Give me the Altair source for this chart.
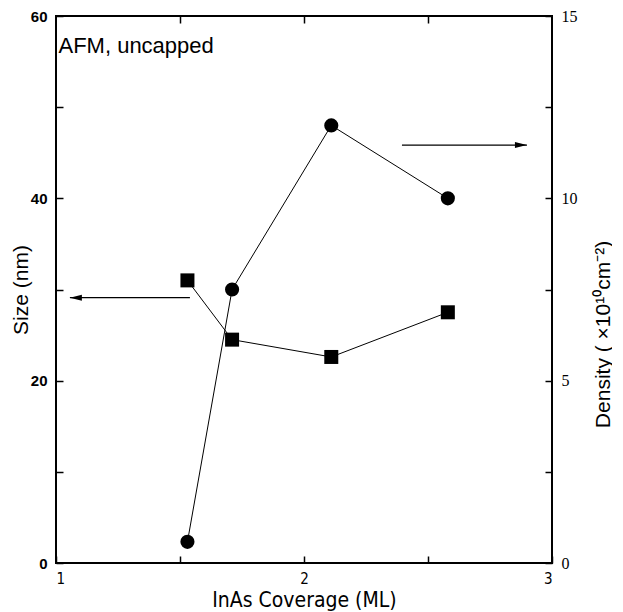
import altair as alt
import pandas as pd

# ---- data ----
coverage = [1.53, 1.71, 2.11, 2.58]          # InAs coverage (ML)
size_nm = [31.0, 24.5, 22.6, 27.5]           # Size (nm), squares, left axis
density = [0.58, 7.5, 12.0, 10.0]            # Density (1e10 cm^-2), circles, right axis

# arrows (tail -> head), in each series' own units
size_arrow_x = [1.54, 1.056]
size_arrow_y = [29.1, 29.1]
dens_arrow_x = [2.395, 2.899]
dens_arrow_y = [11.46, 11.46]

label_text = ["AFM, uncapped"]
label_x = [1.010]
label_y = [55.9]

x_ticks = [1, 1.5, 2, 2.5, 3]
x_top_ticks = [1.5, 2, 2.5]
left_ticks = [0, 10, 20, 30, 40, 50, 60]
right_ticks = [0, 2.5, 5, 7.5, 10, 12.5, 15]

size_df = pd.DataFrame({"coverage": coverage, "value": size_nm})
dens_df = pd.DataFrame({"coverage": coverage, "value": density})
size_arrow = pd.DataFrame({"coverage": size_arrow_x, "value": size_arrow_y})
dens_arrow = pd.DataFrame({"coverage": dens_arrow_x, "value": dens_arrow_y})
size_head = size_arrow.iloc[[1]]
dens_head = dens_arrow.iloc[[1]]
label_df = pd.DataFrame({"coverage": label_x, "value": label_y, "t": label_text})

SANS = "Liberation Sans, Arial, sans-serif"
COND = "DejaVu Sans Condensed, Liberation Sans Narrow, Liberation Sans, sans-serif"
SERIF = "Liberation Serif, Times New Roman, serif"

xscale = alt.Scale(domain=[1, 3], nice=False, zero=False)
lscale = alt.Scale(domain=[0, 60], nice=False)
rscale = alt.Scale(domain=[0, 15], nice=False)

bottom_axis = alt.Axis(
    orient="bottom", values=x_ticks, grid=False, domain=False,
    offset=-7, tickSize=7, tickColor="black", tickWidth=1.5,
    labelExpr="datum.value % 1 == 0 ? format(datum.value, 'd') : ''",
    labelPadding=8, labelFont=COND, labelFontSize=15, labelColor="black",
    title="InAs Coverage (ML)", titleFont=COND, titleFontSize=21,
    titleFontWeight="normal", titleColor="black", titlePadding=3,
)
top_axis = alt.Axis(
    orient="top", values=x_top_ticks, grid=False, domain=False, labels=False,
    offset=-7, tickSize=7, tickColor="black", tickWidth=1.5, title=None,
)
left_axis = alt.Axis(
    orient="left", values=left_ticks, grid=False, domain=False,
    offset=-7, tickSize=7, tickColor="black", tickWidth=1.5,
    labelExpr="datum.value % 20 == 0 ? datum.label : ''",
    labelPadding=9, labelFont=SANS, labelFontSize=15, labelFontWeight="bold",
    labelColor="black",
    title="Size (nm)", titleFont=SANS, titleFontSize=21,
    titleFontWeight="normal", titleColor="black", titlePadding=-1,
)
right_axis = alt.Axis(
    orient="right", values=right_ticks, grid=False, domain=False,
    offset=-7, tickSize=7, tickColor="black", tickWidth=1.5,
    labelExpr="datum.value % 5 == 0 ? datum.label : ''",
    labelPadding=9, labelFont=SERIF, labelFontSize=16, labelColor="black",
    title="Density ( ×10¹⁰cm⁻²)", titleFont=SANS, titleFontSize=21,
    titleFontWeight="normal", titleColor="black", titlePadding=15,
    titleAngle=270, titleBaseline="top", titleY=318,
)

xb = alt.X("coverage:Q", scale=xscale, axis=bottom_axis)
xt = alt.X("coverage:Q", scale=xscale, axis=top_axis)
yl = alt.Y("value:Q", scale=lscale, axis=left_axis)
yr = alt.Y("value:Q", scale=rscale, axis=right_axis)

size_line = alt.Chart(size_df).mark_line(color="black", strokeWidth=1).encode(x=xb, y=yl)
size_pts = alt.Chart(size_df).mark_point(
    shape="square", filled=True, color="black", opacity=1, size=196
).encode(x=xb, y=yl)
size_arr = alt.Chart(size_arrow).mark_line(color="black", strokeWidth=1.2).encode(
    x=xb, y=yl, order=alt.Order("coverage:Q"))
size_arr_head = alt.Chart(size_head).mark_point(
    shape="M2,-0.5L0,0L2,0.5Z", filled=True, color="black", opacity=1, size=144
).encode(x=xb, y=yl)
label = alt.Chart(label_df).mark_text(
    align="left", baseline="alphabetic", font=SANS, fontSize=22, color="black"
).encode(x=xb, y=yl, text="t:N")

size_layer = alt.layer(size_line, size_arr, size_pts, size_arr_head, label)

dens_line = alt.Chart(dens_df).mark_line(color="black", strokeWidth=1).encode(x=xt, y=yr)
dens_pts = alt.Chart(dens_df).mark_point(
    shape="circle", filled=True, color="black", opacity=1, size=200
).encode(x=xt, y=yr)
dens_arr = alt.Chart(dens_arrow).mark_line(color="black", strokeWidth=1.2).encode(
    x=xt, y=yr, order=alt.Order("coverage:Q"))
dens_arr_head = alt.Chart(dens_head).mark_point(
    shape="M-2,-0.5L0,0L-2,0.5Z", filled=True, color="black", opacity=1, size=144
).encode(x=xt, y=yr)

dens_layer = alt.layer(dens_line, dens_arr, dens_pts, dens_arr_head)

chart = (
    alt.layer(size_layer, dens_layer)
    .resolve_scale(y="independent")
    .resolve_axis(x="independent", y="independent")
    .properties(
        width=496, height=547,
        autosize=alt.AutoSizeParams(type="none"),
        padding={"left": 48, "top": 8, "right": 60, "bottom": 49},
        background="white",
    )
    .configure_view(stroke="black", strokeWidth=2)
)

chart.save("out.html", embed_options={"renderer": "svg", "actions": False})
